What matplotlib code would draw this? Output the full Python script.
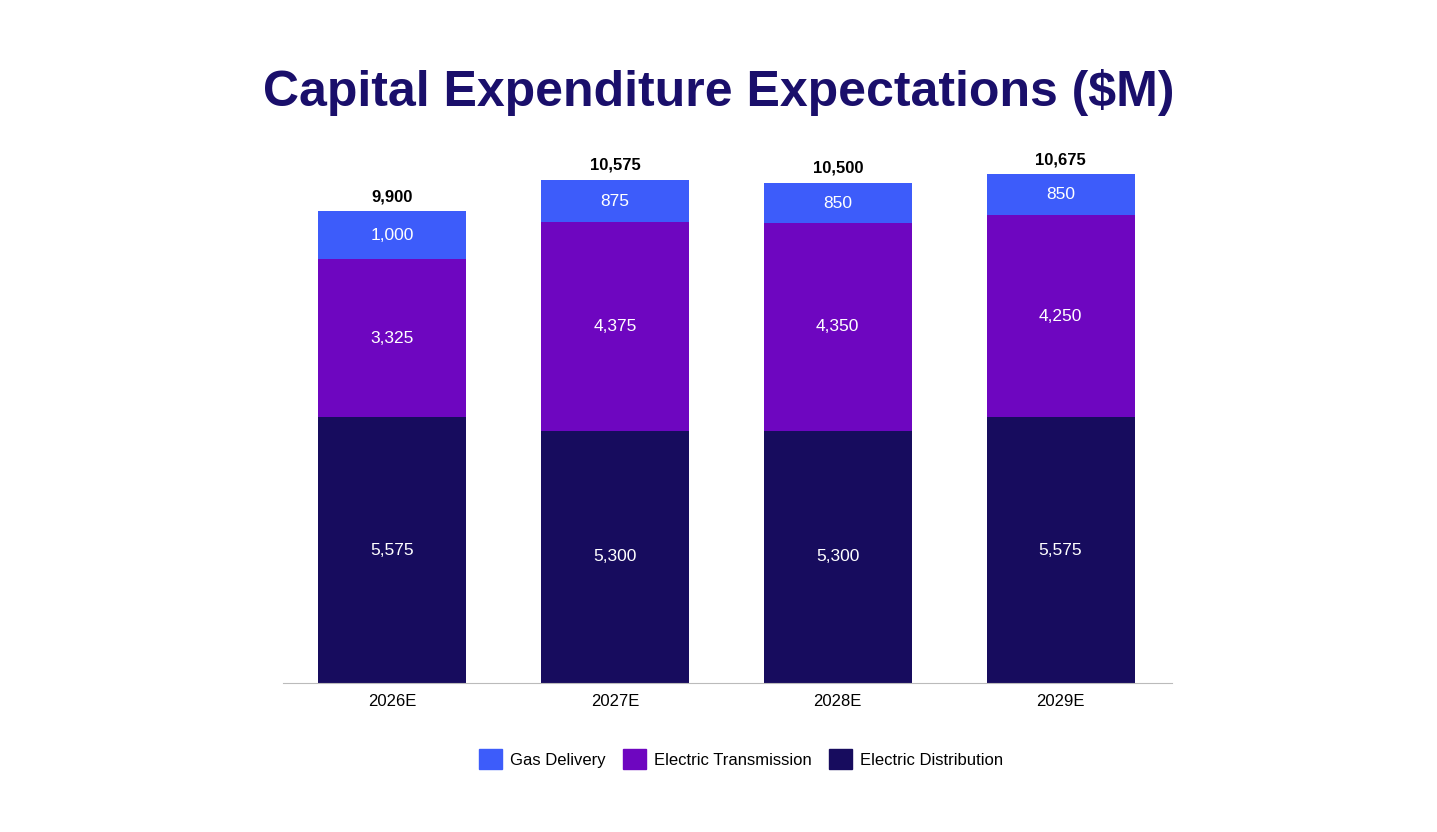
import matplotlib
matplotlib.use("Agg")
import matplotlib.pyplot as plt
from matplotlib.patches import Patch

years = ["2026E", "2027E", "2028E", "2029E"]
distribution = [5575, 5300, 5300, 5575]
transmission = [3325, 4375, 4350, 4250]
gas = [1000, 875, 850, 850]
totals = [9900, 10575, 10500, 10675]

c_gas, c_tr, c_dist = "#3D5CFA", "#6E06C0", "#170C5E"
plt.rcParams['font.family'] = ['Liberation Sans', 'DejaVu Sans']

fig = plt.figure(figsize=(14.37, 8.32), dpi=100)
ax = fig.add_axes([283/1437, (832-683)/832, 889/1437, 524/832])
x = range(len(years))
w = 0.664
ax.bar(x, distribution, w, color=c_dist)
ax.bar(x, transmission, w, bottom=distribution, color=c_tr)
b2 = [d + t for d, t in zip(distribution, transmission)]
ax.bar(x, gas, w, bottom=b2, color=c_gas)
for i in x:
    ax.text(i, distribution[i]/2, f"{distribution[i]:,}", ha='center', va='center', color='white', fontsize=12.5)
    ax.text(i, distribution[i] + transmission[i]/2, f"{transmission[i]:,}", ha='center', va='center', color='white', fontsize=12.5)
    ax.text(i, b2[i] + gas[i]/2, f"{gas[i]:,}", ha='center', va='center', color='white', fontsize=12.5)
    ax.text(i, totals[i] + 150, f"{totals[i]:,}", ha='center', va='bottom', color='black', fontsize=12, fontweight='bold')
ax.set_xlim(-0.49, 3.5)
ax.set_ylim(0, 11000)
ax.set_yticks([])
ax.set_xticks(list(x))
ax.set_xticklabels(years, fontsize=12)
ax.tick_params(axis='x', length=0, pad=8)
for s in ['top', 'right', 'left']:
    ax.spines[s].set_visible(False)
ax.spines['bottom'].set_color('#BBBBBB')

fig.text(0.5, 1 - 93/832, "Capital Expenditure Expectations ($M)", ha='center', va='center',
         fontsize=36, fontweight='bold', color='#1A0F6B')
handles = [Patch(color=c_gas, label="Gas Delivery"), Patch(color=c_tr, label="Electric Transmission"),
           Patch(color=c_dist, label="Electric Distribution")]
fig.legend(handles=handles, loc='center', bbox_to_anchor=(741/1437, 1 - 759/832), ncol=3, frameon=False,
           fontsize=12, handlelength=1.4, handleheight=1.4, handletextpad=0.5, columnspacing=1.0)
fig.savefig("out.png", dpi=100)
